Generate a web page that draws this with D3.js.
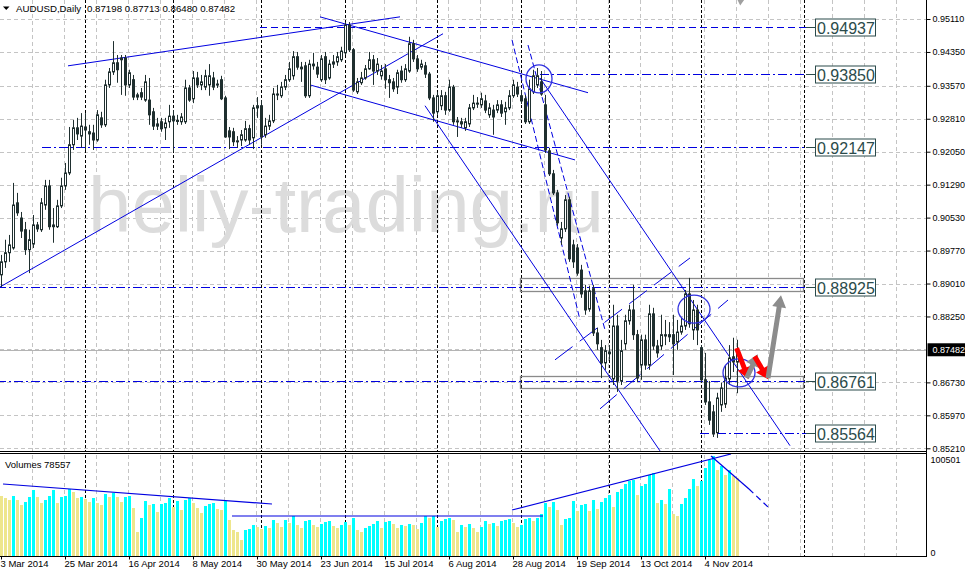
<!DOCTYPE html>
<html><head><meta charset="utf-8">
<script src="https://cdn.jsdelivr.net/npm/d3@7"></script>
<style>
body{margin:0;background:#fff;overflow:hidden}
svg{display:block;font-family:"Liberation Sans",Arial,sans-serif}
</style></head><body>
<svg id="c" width="965" height="575"></svg>
<script>
// ---------- DATA (AUDUSD Daily, bar index 0 = 3 Mar 2014) ----------
const openP=[0.8921,0.8951,0.8972,0.8983,0.9087,0.9052,0.9025,0.8979,0.8992,0.9036,
0.9025,0.9082,0.9126,0.9036,0.9032,0.9080,0.9126,0.9156,0.9221,0.9260,
0.9241,0.9262,0.9251,0.9248,0.9232,0.9283,0.9267,0.9359,0.9389,0.9410,
0.9421,0.9421,0.9359,0.9371,0.9331,0.9341,0.9324,0.9324,0.9297,0.9269,
0.9274,0.9260,0.9274,0.9287,0.9276,0.9274,0.9274,0.9352,0.9327,0.9375,
0.9359,0.9354,0.9359,0.9375,0.9361,0.9371,0.9329,0.9253,0.9251,0.9228,
0.9232,0.9232,0.9258,0.9237,0.9306,0.9311,0.9244,0.9264,0.9276,0.9336,
0.9334,0.9354,0.9371,0.9380,0.9424,0.9400,0.9403,0.9334,0.9407,0.9400,
0.9371,0.9424,0.9375,0.9407,0.9412,0.9417,0.9433,0.9497,0.9440,0.9343,
0.9364,0.9375,0.9396,0.9417,0.9391,0.9380,0.9396,0.9371,0.9366,0.9354,
0.9391,0.9371,0.9391,0.9454,0.9419,0.9400,0.9403,0.9384,0.9329,0.9297,
0.9311,0.9334,0.9301,0.9354,0.9274,0.9274,0.9260,0.9269,0.9306,0.9315,
0.9313,0.9322,0.9290,0.9301,0.9301,0.9313,0.9297,0.9306,0.9334,0.9354,
0.9334,0.9327,0.9274,0.9343,0.9359,0.9366,0.9313,0.9207,0.9154,0.9110,
0.9006,0.9027,0.9094,0.8990,0.8983,0.8932,0.8884,0.8842,0.8889,0.8787,
0.8753,0.8718,0.8743,0.8681,0.8803,0.8676,0.8762,0.8815,0.8840,0.8783,
0.8713,0.8771,0.8713,0.8831,0.8757,0.8757,0.8780,0.8783,0.8783,0.8766,
0.8789,0.8803,0.8877,0.8794,0.8840,0.8753,0.8679,0.8628,0.8605,0.8557,
0.8621,0.8623,0.8681,0.8732,0.87198];
const highP=[0.8967,0.9002,0.9013,0.9133,0.9110,0.9066,0.9043,0.9025,0.9059,0.9043,
0.9098,0.9140,0.9140,0.9075,0.9094,0.9145,0.9179,0.9262,0.9278,0.9283,
0.9294,0.9294,0.9267,0.9267,0.9301,0.9297,0.9371,0.9398,0.9460,0.9428,
0.9428,0.9428,0.9394,0.9382,0.9341,0.9352,0.9382,0.9375,0.9306,0.9283,
0.9283,0.9283,0.9313,0.9301,0.9290,0.9294,0.9371,0.9359,0.9391,0.9389,
0.9382,0.9394,0.9407,0.9389,0.9371,0.9380,0.9334,0.9262,0.9260,0.9241,
0.9255,0.9276,0.9267,0.9313,0.9331,0.9324,0.9283,0.9290,0.9352,0.9359,
0.9366,0.9382,0.9412,0.9437,0.9435,0.9412,0.9412,0.9417,0.9433,0.9412,
0.9428,0.9435,0.9417,0.9428,0.9435,0.9447,0.9504,0.9504,0.9444,0.9375,
0.9389,0.9405,0.9435,0.9428,0.9421,0.9405,0.9407,0.9382,0.9375,0.9394,
0.9403,0.9407,0.9470,0.9463,0.9428,0.9417,0.9412,0.9389,0.9336,0.9343,
0.9347,0.9343,0.9371,0.9359,0.9285,0.9283,0.9283,0.9315,0.9336,0.9331,
0.9341,0.9336,0.9317,0.9313,0.9324,0.9324,0.9320,0.9347,0.9371,0.9366,
0.9347,0.9336,0.9371,0.9394,0.9398,0.9391,0.9336,0.9214,0.9163,0.9117,
0.9043,0.9105,0.9101,0.9002,0.8992,0.8944,0.8898,0.8896,0.8898,0.8799,
0.8771,0.8759,0.8759,0.8852,0.8829,0.8771,0.8829,0.8852,0.8898,0.8794,
0.8783,0.8783,0.8852,0.8845,0.8771,0.8829,0.8817,0.8812,0.8829,0.8817,
0.8822,0.8886,0.8914,0.8863,0.8852,0.8759,0.8741,0.8676,0.8621,0.8649,
0.8672,0.8713,0.8759,0.8776,0.87713];
const lowP=[0.8893,0.8937,0.8951,0.8979,0.9057,0.9006,0.8967,0.8925,0.8983,0.9020,
0.9020,0.9071,0.9025,0.8995,0.9029,0.9075,0.9117,0.9151,0.9209,0.9232,
0.9214,0.9209,0.9221,0.9209,0.9228,0.9260,0.9262,0.9352,0.9382,0.9364,
0.9336,0.9334,0.9352,0.9324,0.9324,0.9324,0.9320,0.9267,0.9255,0.9255,
0.9251,0.9232,0.9260,0.9205,0.9267,0.9267,0.9269,0.9320,0.9317,0.9352,
0.9347,0.9347,0.9334,0.9347,0.9352,0.9324,0.9237,0.9211,0.9218,0.9214,
0.9218,0.9228,0.9221,0.9211,0.9283,0.9221,0.9237,0.9255,0.9271,0.9324,
0.9329,0.9347,0.9366,0.9371,0.9394,0.9366,0.9329,0.9329,0.9394,0.9375,
0.9366,0.9361,0.9371,0.9398,0.9403,0.9412,0.9428,0.9435,0.9343,0.9338,
0.9359,0.9371,0.9394,0.9359,0.9382,0.9371,0.9350,0.9329,0.9343,0.9338,
0.9364,0.9366,0.9387,0.9412,0.9389,0.9394,0.9375,0.9324,0.9274,0.9290,
0.9301,0.9290,0.9297,0.9267,0.9239,0.9260,0.9253,0.9262,0.9301,0.9306,
0.9306,0.9294,0.9283,0.9244,0.9294,0.9285,0.9267,0.9301,0.9329,0.9331,
0.9315,0.9269,0.9269,0.9338,0.9352,0.9334,0.9202,0.9149,0.9105,0.9034,
0.8990,0.9020,0.8951,0.8937,0.8919,0.8868,0.8829,0.8836,0.8780,0.8748,
0.8683,0.8702,0.8725,0.8667,0.8651,0.8667,0.8748,0.8806,0.8771,0.8674,
0.8679,0.8702,0.8702,0.8748,0.8730,0.8748,0.8759,0.8766,0.8690,0.8748,
0.8783,0.8794,0.8799,0.8771,0.8759,0.8672,0.8621,0.8575,0.8547,0.8545,
0.8605,0.8614,0.8667,0.8697,0.86480];
const closeP=[0.8951,0.8972,0.8990,0.9082,0.9064,0.9022,0.8979,0.9002,0.9036,0.9027,
0.9087,0.9126,0.9032,0.9032,0.9080,0.9126,0.9156,0.9221,0.9260,0.9246,
0.9264,0.9255,0.9246,0.9232,0.9290,0.9267,0.9359,0.9389,0.9410,0.9394,
0.9417,0.9359,0.9387,0.9331,0.9336,0.9331,0.9366,0.9290,0.9264,0.9264,
0.9258,0.9271,0.9287,0.9276,0.9277,0.9285,0.9352,0.9324,0.9375,0.9359,
0.9366,0.9380,0.9380,0.9354,0.9359,0.9327,0.9239,0.9239,0.9228,0.9230,
0.9244,0.9258,0.9232,0.9306,0.9311,0.9239,0.9264,0.9276,0.9338,0.9338,
0.9354,0.9371,0.9396,0.9424,0.9400,0.9396,0.9334,0.9407,0.9403,0.9384,
0.9419,0.9371,0.9407,0.9412,0.9424,0.9437,0.9497,0.9440,0.9347,0.9366,
0.9375,0.9396,0.9417,0.9391,0.9407,0.9391,0.9371,0.9364,0.9350,0.9387,
0.9371,0.9396,0.9454,0.9419,0.9396,0.9407,0.9384,0.9329,0.9294,0.9334,
0.9334,0.9301,0.9354,0.9274,0.9276,0.9269,0.9274,0.9306,0.9317,0.9317,
0.9327,0.9301,0.9306,0.9285,0.9313,0.9294,0.9306,0.9334,0.9359,0.9338,
0.9322,0.9274,0.9350,0.9380,0.9380,0.9338,0.9209,0.9154,0.9110,0.9041,
0.9027,0.9094,0.8958,0.8951,0.8925,0.8877,0.8840,0.8884,0.8787,0.8762,
0.8718,0.8746,0.8739,0.8803,0.8676,0.8746,0.8815,0.8840,0.8783,0.8683,
0.8771,0.8713,0.8831,0.8757,0.8741,0.8783,0.8783,0.8778,0.8762,0.8789,
0.8803,0.8877,0.8808,0.8840,0.8794,0.8679,0.8628,0.8586,0.8554,0.8637,
0.8660,0.8683,0.8729,0.8720,0.87482];
const volumes=[60300,58290,56280,60300,56280,51255,54270,59295,66330,59295,
53265,56280,60300,66330,53265,59295,60300,67335,64320,58290,
59295,57285,54270,58290,53265,51255,62310,59295,63315,59295,
54270,59295,60300,48240,24120,38190,55275,51255,52260,44220,
52260,53265,58290,49245,55275,46230,56280,58290,53265,48240,
43215,50250,52260,53265,47235,46230,55275,36180,26130,24120,
16080,26130,27135,31155,29145,27135,30150,28140,36180,33165,
29145,36180,33165,40200,31155,28140,35175,36180,31155,29145,
32160,34170,35175,30150,28140,31155,34170,31155,38190,26130,
24120,28140,30150,32160,35175,28140,34170,35175,32160,28140,
31155,30150,32160,31155,27135,33165,40200,38190,40200,29145,
35175,37185,38190,36180,24120,31155,29145,32160,28140,24120,
29145,35175,32160,33165,30150,35175,36180,37185,33165,29145,
31155,37185,38190,35175,38190,42210,53265,49245,54270,46230,
31155,37185,38190,55275,45225,51255,52260,45225,56280,47235,
54270,58290,61305,49245,64320,67335,72360,75375,76380,61305,
70350,72360,81405,83415,53265,56280,52260,67335,42210,40200,
52260,58290,67335,77385,70350,75375,88440,96480,100501,86430,
90450,81405,86430,80400,78557];
const priceTicks=[0.95110,0.94350,0.93570,0.92810,0.92050,0.91290,0.90530,0.89770,0.89010,0.88250,0.87490,0.86730,0.85970,0.85210];
const priceLabelTicks=[0.95110,0.94350,0.93570,0.92810,0.92050,0.91290,0.90530,0.89770,0.89010,0.88250,0.86730,0.85970,0.85210];
const dateTickIdx=[0,16,32,48,64,80,96,112,128,144,160,176];
const dateTickLabels=["3 Mar 2014","25 Mar 2014","16 Apr 2014","8 May 2014","30 May 2014","23 Jun 2014","15 Jul 2014","6 Aug 2014","28 Aug 2014","19 Sep 2014","13 Oct 2014","4 Nov 2014"];
const monthSepIdx=[21,43,65,86,109,130,152,175,200.75];
const levels=[0.94937,0.93850,0.92147,0.88925,0.86761,0.85564];
const levelStartIdx=[64.75,134.75,10.25,-1,-1,174.75];
const lastPrice=0.87482, volMax=100501, lastVolume=78557;
// trend lines: [idx1, price1, idx2, price2]
const trendLines=[[-0.25,0.8893,110.5,0.9477],[16.75,0.9403,99.75,0.9516],[79.75,0.9516,146.75,0.9341],
[77.25,0.9359,143.5,0.9186],[106,0.9311,164.75,0.8515],[134.75,0.9375,197.25,0.8527]];
const dashedLines=[[127.75,0.9463,144.75,0.8817],[131.75,0.9451,151,0.8794]];
const channelLines=[[138.5,0.8725,172.25,0.8960],[149.75,0.8612,181.75,0.8863]];
const rects=[[129.75,0.8914,200.5,0.8884],[129.75,0.8688,200.5,0.8660]];
const ellipses=[[134.5,0.9373],[173.25,0.8842],[184.5,0.8695]];
// arrows: [idx1,price1,idx2,price2,colour]
const arrows=[[183.9,0.8752,186.9,0.8680,"#ff0000"],[186.4,0.8683,189.2,0.8738,"#8c8c8c"],
[188.4,0.8733,191.8,0.8680,"#ff0000"],[191.75,0.8683,195,0.8874,"#8c8c8c"],[185.5,0.9620,184.8,0.9542,"#a0a0a0"]];
// volume-window lines [idx1, vol1, idx2, vol2]
const volLines=[[0.5,72360,67.75,52260],[57.75,40200,135.5,40200],[127.75,46230,182.5,102510]];
const volDashLine=[[177.5,100500,187,67335],[187,67335,191.75,49245]];

// ---------- SCALES ----------
const svg=d3.select("#c");
const x=d3.scaleLinear().domain([0,1]).range([1,5]);
const y=d3.scaleLinear().domain([0.85210,0.95110]).range([448.3,19]);
const yv=d3.scaleLinear().domain([0,volMax]).range([556,456]);
const AX=926.5;
const blue="#0000e0", dark="#1f2f2f";

const defs=svg.append("defs");
defs.append("clipPath").attr("id","cm").append("rect").attr("x",0).attr("y",0).attr("width",AX).attr("height",451);
defs.append("clipPath").attr("id","cv").append("rect").attr("x",0).attr("y",454).attr("width",AX).attr("height",102);

svg.append("rect").attr("width",965).attr("height",575).attr("fill","#fff");

const gm=svg.append("g").attr("clip-path","url(#cm)");
const gv=svg.append("g").attr("clip-path","url(#cv)");

// grid
const gridX=d3.range(1,29).map(k=>x(8*k)-1.5);
[gm,gv].forEach(g=>{
  g.selectAll(null).data(gridX).join("line").attr("x1",d=>Math.round(d)+0.5).attr("x2",d=>Math.round(d)+0.5)
   .attr("y1",0).attr("y2",575).attr("stroke","#c4c4c4").attr("stroke-dasharray","4,3");
});
gm.selectAll(null).data(priceTicks).join("line").attr("x1",0).attr("x2",AX)
  .attr("y1",d=>Math.round(y(d))+0.5).attr("y2",d=>Math.round(y(d))+0.5)
  .attr("stroke","#c4c4c4").attr("stroke-dasharray","4,3");

// watermark
gm.append("text").attr("x",x(21.75)).attr("y",232).attr("font-size",78).attr("fill","#dcdcdc")
  .attr("font-family","Liberation Sans, Arial, sans-serif").text("heliy-trading.ru");

// month separators
[gm,gv].forEach(g=>{
  g.selectAll(null).data(monthSepIdx).join("line").attr("x1",d=>Math.round(x(d))+0.5).attr("x2",d=>Math.round(x(d))+0.5)
   .attr("y1",0).attr("y2",575).attr("stroke","#000").attr("stroke-dasharray","3,2");
});

// last price line
gm.append("line").attr("x1",0).attr("x2",AX).attr("y1",Math.round(y(lastPrice))+0.5).attr("y2",Math.round(y(lastPrice))+0.5)
  .attr("stroke","#b4b4b4");

// rectangles
gm.selectAll(null).data(rects).join("rect")
  .attr("x",d=>Math.round(x(d[0]))+0.5).attr("y",d=>Math.round(y(d[1]))+0.5)
  .attr("width",d=>Math.round(x(d[2])-x(d[0]))).attr("height",d=>Math.round(y(d[3])-y(d[1])))
  .attr("fill","none").attr("stroke","#8a8a8a").attr("stroke-width",1.3);

// horizontal levels
levels.forEach((lv,k)=>{
  const yy=Math.round(y(lv))+0.5;
  gm.append("line").attr("x1",x(levelStartIdx[k])).attr("x2",808).attr("y1",yy).attr("y2",yy)
    .attr("stroke",blue).attr("stroke-width",1.2).attr("stroke-dasharray",k===0?"7,4":"9,3,2,3");
});

// trend lines
gm.selectAll(null).data(trendLines).join("line")
  .attr("x1",d=>x(d[0])).attr("y1",d=>y(d[1])).attr("x2",d=>x(d[2])).attr("y2",d=>y(d[3]))
  .attr("stroke",blue).attr("stroke-width",1);
gm.selectAll(null).data(dashedLines).join("line")
  .attr("x1",d=>x(d[0])).attr("y1",d=>y(d[1])).attr("x2",d=>x(d[2])).attr("y2",d=>y(d[3]))
  .attr("stroke",blue).attr("stroke-width",1).attr("stroke-dasharray","6,3");
gm.selectAll(null).data(channelLines).join("line")
  .attr("x1",d=>x(d[0])).attr("y1",d=>y(d[1])).attr("x2",d=>x(d[2])).attr("y2",d=>y(d[3]))
  .attr("stroke",blue).attr("stroke-width",1).attr("stroke-dasharray","22,9");

// candles
const idx=d3.range(openP.length);
const cg=gm.append("g");
cg.selectAll(null).data(idx).join("line")
  .attr("x1",i=>Math.round(x(i))+0.5).attr("x2",i=>Math.round(x(i))+0.5)
  .attr("y1",i=>y(highP[i])).attr("y2",i=>y(lowP[i])).attr("stroke",dark).attr("stroke-width",1);
cg.selectAll(null).data(idx).join("rect")
  .attr("x",i=>Math.round(x(i))-0.5).attr("width",2)
  .attr("y",i=>Math.min(y(openP[i]),y(closeP[i])))
  .attr("height",i=>Math.max(1,Math.abs(y(openP[i])-y(closeP[i]))))
  .attr("fill",i=>closeP[i]>=openP[i]?"#fff":dark).attr("stroke",dark).attr("stroke-width",1);

// ellipses
gm.selectAll(null).data(ellipses).join("ellipse")
  .attr("cx",d=>x(d[0])).attr("cy",d=>y(d[1])).attr("rx",(d,k)=>k===0?13:16).attr("ry",14)
  .attr("fill","none").attr("stroke","#3030e0").attr("stroke-width",1.3);

// arrows
function arrowPath(x1,y1,x2,y2,w,hl,hw){
  const dx=x2-x1,dy=y2-y1,L=Math.hypot(dx,dy),ux=dx/L,uy=dy/L,px=-uy,py=ux;
  const bx=x2-ux*hl,by=y2-uy*hl;
  const p=[[x1+px*w/2,y1+py*w/2],[bx+px*w/2,by+py*w/2],[bx+px*hw/2,by+py*hw/2],[x2,y2],
    [bx-px*hw/2,by-py*hw/2],[bx-px*w/2,by-py*w/2],[x1-px*w/2,y1-py*w/2]];
  return "M"+p.map(q=>q.join(",")).join("L")+"Z";
}
gm.selectAll(null).data(arrows).join("path")
  .attr("d",d=>arrowPath(x(d[0]),y(d[1]),x(d[2]),y(d[3]),5,12,14))
  .attr("fill",d=>d[4]);

// level labels
levels.forEach(lv=>{
  const yy=Math.round(y(lv))+0.5;
  svg.append("line").attr("x1",806).attr("x2",816).attr("y1",yy).attr("y2",yy).attr("stroke","#2b4b4b");
  svg.append("rect").attr("x",815.5).attr("y",yy-8.5).attr("width",60).attr("height",17)
    .attr("fill","#fff").attr("stroke","#2b4b4b");
  svg.append("text").attr("x",817).attr("y",yy+6).attr("font-size",16).attr("fill","#2b4b4b").text(d3.format(".5f")(lv));
});

// volumes
gv.selectAll(null).data(idx).join("rect")
  .attr("x",i=>Math.round(x(i))-1).attr("width",3)
  .attr("y",i=>yv(volumes[i])).attr("height",i=>556-yv(volumes[i]))
  .attr("fill",i=>(i>0&&volumes[i]>volumes[i-1])?"#00ffff":"#eee68c");
gv.selectAll(null).data(volLines).join("line")
  .attr("x1",d=>x(d[0])).attr("y1",d=>yv(d[1])).attr("x2",d=>x(d[2])).attr("y2",d=>yv(d[3]))
  .attr("stroke",blue).attr("stroke-width",1.2);
gv.selectAll(null).data(volDashLine).join("line")
  .attr("x1",d=>x(d[0])).attr("y1",d=>yv(d[1])).attr("x2",d=>x(d[2])).attr("y2",d=>yv(d[3]))
  .attr("stroke",blue).attr("stroke-width",1.2).attr("stroke-dasharray",(d,k)=>k?"6,4":null);

// frames
svg.append("line").attr("x1",0).attr("x2",AX).attr("y1",451.5).attr("y2",451.5).attr("stroke","#000");
svg.append("line").attr("x1",0).attr("x2",AX).attr("y1",453.5).attr("y2",453.5).attr("stroke","#000");

// price axis
const pa=svg.append("g").attr("transform",`translate(${AX},0)`)
  .call(d3.axisRight(y).tickValues(priceLabelTicks).tickSize(4).tickFormat(d3.format(".5f")));
pa.select(".domain").remove();
pa.selectAll("line").attr("stroke","#000");
pa.selectAll("text").attr("font-size",9).attr("font-family","Liberation Sans, Arial").attr("x",6).attr("fill","#000");
svg.append("line").attr("x1",AX).attr("x2",AX).attr("y1",0).attr("y2",557).attr("stroke","#000");
// current price tag
const ly=y(lastPrice);
svg.append("rect").attr("x",AX+1).attr("y",ly-6.5).attr("width",38).attr("height",13).attr("fill","#000");
svg.append("text").attr("x",AX+6).attr("y",ly+3.5).attr("font-size",9).attr("fill","#fff").text(d3.format(".5f")(lastPrice));
// volume axis labels
const va=svg.append("g").attr("transform",`translate(${AX},0)`)
  .call(d3.axisRight(yv).tickValues([volMax,0]).tickSize(0).tickFormat(d3.format("d")));
va.select(".domain").remove();
va.selectAll("text").attr("font-size",9).attr("font-family","Liberation Sans, Arial").attr("x",4)
  .attr("dy",(d)=>d===0?"-0.1em":"0.7em");

// time axis
const ta=svg.append("g").attr("transform","translate(0,556.5)")
  .call(d3.axisBottom(x).tickValues(dateTickIdx).tickSize(3).tickFormat((d,k)=>dateTickLabels[k]));
ta.select(".domain").attr("d","M0,0H"+AX).attr("stroke","#000");
ta.selectAll("line").attr("stroke","#000");
ta.selectAll("text").attr("font-size",9.5).attr("font-family","Liberation Sans, Arial").attr("text-anchor","start")
  .attr("dx",-1).attr("y",4).attr("fill","#000");

// header
svg.append("path").attr("d","M3,6.5L9.5,6.5L6.25,10Z").attr("fill","#000");
svg.append("text").attr("x",16).attr("y",11.5).attr("font-size",9.7).text("AUDUSD,Daily");
svg.append("text").attr("x",87).attr("y",11.5).attr("font-size",9.7)
  .text([openP[184],highP[184],lowP[184],closeP[184]].map(d3.format(".5f")).join(" "));
svg.append("text").attr("x",5).attr("y",467.5).attr("font-size",9.5).text("Volumes "+lastVolume);
</script>
</body></html>
